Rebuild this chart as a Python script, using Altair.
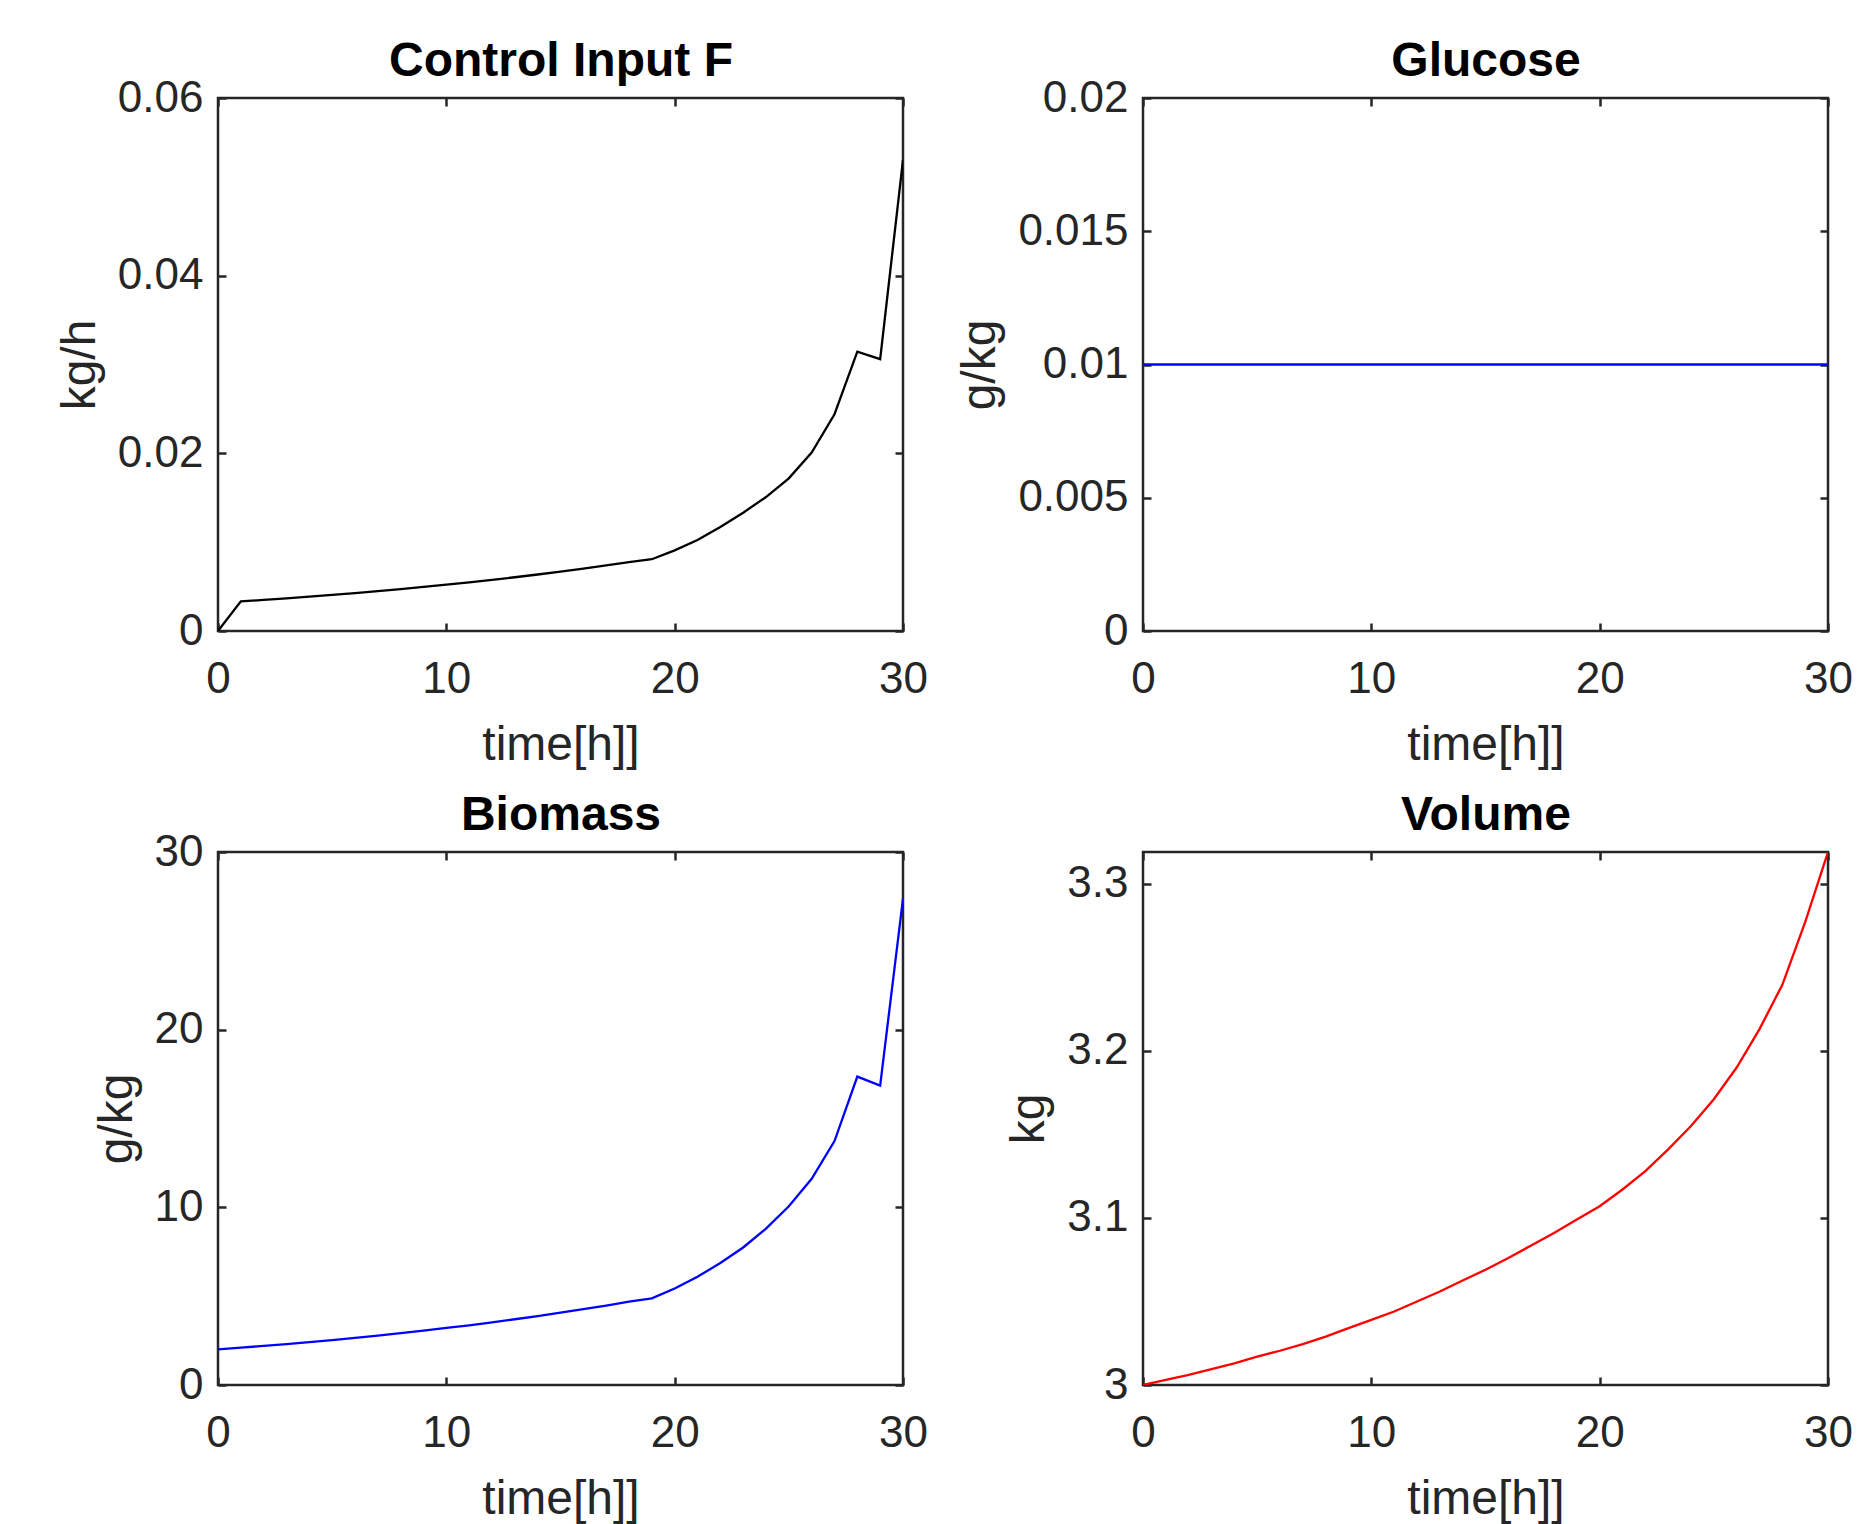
import altair as alt
import pandas as pd

# ---- data ----
hours = list(range(31))
feed_rate = [0.0, 0.00333, 0.00350, 0.00368, 0.00387, 0.00406, 0.00427, 0.00449,
             0.00472, 0.00496, 0.00521, 0.00548, 0.00576, 0.00605, 0.00636, 0.00668,
             0.00702, 0.00738, 0.00776, 0.00808, 0.00908, 0.01024, 0.01171, 0.01332,
             0.01508, 0.01719, 0.02008, 0.02440, 0.03144, 0.03060, 0.05304]
glucose = [0.01] * 31
biomass = [2.00, 2.10, 2.20, 2.30, 2.41, 2.53, 2.65, 2.78, 2.92, 3.06, 3.21, 3.36,
           3.53, 3.70, 3.88, 4.07, 4.27, 4.47, 4.69, 4.88, 5.43, 6.09, 6.87, 7.74,
           8.80, 10.06, 11.61, 13.73, 17.36, 16.85, 27.38]
volume = [3.000, 3.003, 3.006, 3.0095, 3.013, 3.017, 3.0205, 3.0245, 3.029, 3.034,
          3.039, 3.044, 3.050, 3.056, 3.0625, 3.069, 3.076, 3.0835, 3.091, 3.099,
          3.107, 3.117, 3.128, 3.141, 3.155, 3.171, 3.190, 3.213, 3.2395, 3.277, 3.319]

x_ticks = [0, 10, 20, 30]
titles = ["Control Input F", "Glucose", "Biomass", "Volume"]
ylabels = ["kg/h", "g/kg", "g/kg", "kg"]
xlabel = "time[h]]"

FONT = "Liberation Sans"
AX = "#262626"
W, H = 685, 533


def tick_axis(orient, offset, values):
    return alt.Axis(orient=orient, offset=offset, values=values, labels=False,
                    domain=False, grid=False, ticks=True, tickSize=8,
                    tickWidth=2.5, tickColor=AX, title=None)


def panel(values, color, title, ylabel, ydomain, yticks):
    df = pd.DataFrame({"t": hours, "v": values})
    xs = alt.Scale(domain=[0, 30], nice=False, zero=False)
    ys = alt.Scale(domain=ydomain, nice=False, zero=False)
    main = alt.Chart(df).mark_line(color=color, strokeWidth=2.3, clip=True).encode(
        x=alt.X("t:Q", scale=xs, axis=alt.Axis(
            orient="bottom", values=x_ticks, ticks=False, domain=False, grid=False,
            labelFontSize=44, labelColor=AX, labelFont=FONT, labelPadding=26,
            labelFlush=False, labelOverlap=False, labelExpr="datum.value + ''",
            title=xlabel, titleFontSize=48, titleFont=FONT, titleColor=AX,
            titleFontWeight="normal", titlePadding=20)),
        y=alt.Y("v:Q", scale=ys, axis=alt.Axis(
            orient="left", values=yticks, ticks=False, domain=False,
            grid=False, labelFontSize=44, labelColor=AX, labelFont=FONT,
            labelPadding=15, labelFlush=False, labelOverlap=False,
            labelExpr="datum.value + ''",
            title=ylabel, titleFontSize=48, titleFont=FONT, titleColor=AX,
            titleFontWeight="normal", titlePadding=13)),
    )
    inner1 = alt.Chart(df).mark_line(opacity=0).encode(
        x=alt.X("t:Q", scale=xs, axis=tick_axis("top", -H, x_ticks)),
        y=alt.Y("v:Q", scale=ys, axis=tick_axis("right", -W, yticks)),
    )
    inner2 = alt.Chart(df).mark_line(opacity=0).encode(
        x=alt.X("t:Q", scale=xs, axis=tick_axis("bottom", -H, x_ticks)),
        y=alt.Y("v:Q", scale=ys, axis=tick_axis("left", -W, yticks)),
    )
    head = alt.Chart(df).mark_line(opacity=0).encode(
        x=alt.X("t:Q", scale=xs, axis=alt.Axis(
            orient="top", ticks=False, labels=False, domain=False, grid=False,
            title=title, titleFontSize=48, titleFont=FONT, titleFontWeight="bold",
            titleColor="#000000", titlePadding=23, titleBaseline="alphabetic")),
        y=alt.Y("v:Q", scale=ys, axis=None),
    )
    return alt.layer(main, inner1, inner2, head).resolve_axis(
        x="independent", y="independent"
    ).properties(width=W, height=H)


p1 = panel(feed_rate, "#000000", titles[0], ylabels[0], [0, 0.06], [0, 0.02, 0.04, 0.06])
p2 = panel(glucose, "#0000FF", titles[1], ylabels[1], [0, 0.02], [0, 0.005, 0.01, 0.015, 0.02])
p3 = panel(biomass, "#0000FF", titles[2], ylabels[2], [0, 30], [0, 10, 20, 30])
p4 = panel(volume, "#FF0000", titles[3], ylabels[3], [3, 3.319], [3, 3.1, 3.2, 3.3])

chart = alt.concat(p1, p2, p3, p4, columns=2, spacing={"row": 221, "column": 240},
                   bounds="flush").properties(
    padding={"left": 47, "top": 27, "right": 0, "bottom": 0}
).configure_view(stroke=AX, strokeWidth=2.5)

chart.save("out.html", embed_options={"renderer": "svg", "actions": False})
